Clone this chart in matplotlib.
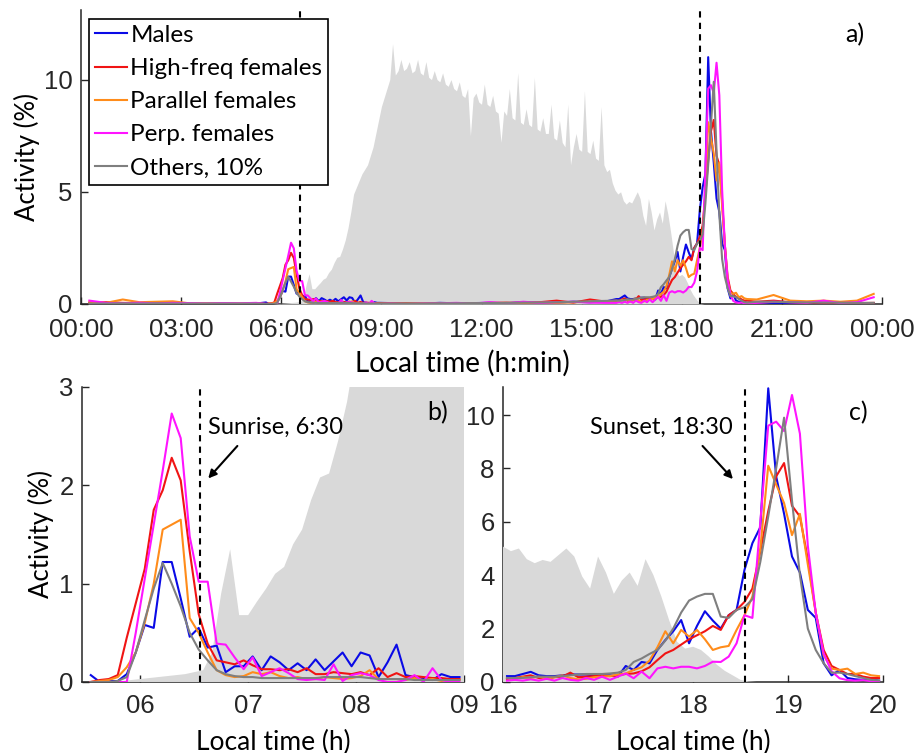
import numpy as np
import matplotlib
matplotlib.use("Agg")
import matplotlib.pyplot as plt

plt.rcParams['font.family'] = ['Liberation Sans', 'DejaVu Sans']
plt.rcParams['axes.edgecolor'] = '#262626'
plt.rcParams['axes.linewidth'] = 1.1
plt.rcParams['xtick.color'] = '#262626'
plt.rcParams['ytick.color'] = '#262626'
LBL = 'Lato'

# ---- activity (%) in 5-min bins, window b (05:30-09:00) ----
males_b = [0.07, 0.0, 0.01, 0.01, 0.08, 0.3, 0.58, 0.55, 1.22, 1.22,
           0.85, 0.46, 0.55, 0.35, 0.37, 0.1, 0.16, 0.16, 0.26, 0.12,
           0.26, 0.2, 0.12, 0.19, 0.12, 0.23, 0.12, 0.21, 0.3, 0.16,
           0.3, 0.27, 0.05, 0.2, 0.38, 0.07, 0.05, 0.03, 0.02, 0.08,
           0.05, 0.05]
hifreq_b = [0.0, 0.02, 0.03, 0.07, 0.45, 0.8, 1.15, 1.75, 1.95, 2.28,
            2.05, 1.33, 0.69, 0.39, 0.22, 0.2, 0.18, 0.22, 0.17, 0.13,
            0.13, 0.12, 0.13, 0.1, 0.14, 0.08, 0.08, 0.1, 0.09, 0.08,
            0.1, 0.07, 0.14, 0.05, 0.09, 0.05, 0.06, 0.05, 0.04, 0.04,
            0.03, 0.03]
parallel_b = [0.0, 0.01, 0.02, 0.05, 0.15, 0.3, 0.6, 1.0, 1.55, 1.6,
              1.65, 0.65, 0.5, 0.3, 0.12, 0.07, 0.05, 0.06, 0.1, 0.08,
              0.1, 0.06, 0.04, 0.05, 0.03, 0.03, 0.05, 0.04, 0.03, 0.04,
              0.06, 0.12, 0.03, 0.03, 0.03, 0.02, 0.04, 0.02, 0.03, 0.01,
              0.02, 0.02]
perp_b = [0.0, 0.0, 0.0, 0.0, 0.0, 0.5, 1.05, 1.6, 2.15, 2.73,
          2.48, 1.48, 1.02, 1.02, 0.39, 0.38, 0.25, 0.13, 0.25, 0.06,
          0.1, 0.14, 0.09, 0.03, 0.02, 0.03, 0.02, 0.18, 0.01, 0.07,
          0.09, 0.07, 0.02, 0.0, 0.0, 0.02, 0.07, 0.0, 0.14, 0.02,
          0.0, 0.0]
others_b = [0.0, 0.0, 0.0, 0.01, 0.05, 0.3, 0.63, 0.95, 1.21, 1.0,
            0.77, 0.5, 0.33, 0.22, 0.12, 0.08, 0.06, 0.05, 0.05, 0.04,
            0.04, 0.04, 0.04, 0.04, 0.04, 0.04, 0.05, 0.05, 0.05, 0.05,
            0.05, 0.04, 0.03, 0.03, 0.03, 0.03, 0.02, 0.02, 0.02, 0.02,
            0.02, 0.02]

# ---- window c (16:00-20:00) ----
males_c = [0.22, 0.22, 0.3, 0.38, 0.25, 0.22, 0.22, 0.25, 0.28, 0.28,
           0.28, 0.25, 0.25, 0.25, 0.2, 0.6, 0.45, 0.75, 0.7, 1.2,
           1.57, 1.9, 2.32, 1.45, 2.1, 2.65, 2.3, 2.0, 2.5, 2.7,
           4.2, 5.2, 5.8, 11.0, 7.7, 6.3, 4.7, 4.1, 2.7, 2.4,
           0.7, 0.25, 0.45, 0.15, 0.1, 0.08, 0.1, 0.05]
hifreq_c = [0.12, 0.15, 0.2, 0.25, 0.15, 0.12, 0.18, 0.2, 0.35, 0.18,
            0.2, 0.22, 0.25, 0.22, 0.25, 0.3, 0.32, 0.4, 0.55, 0.82,
            1.07, 1.2, 1.4, 1.6, 1.75, 1.9, 2.1, 1.95, 2.5, 2.7,
            3.0, 3.5, 4.9, 6.4, 7.7, 8.2, 6.6, 6.2, 4.6, 2.6,
            1.2, 0.6, 0.45, 0.3, 0.3, 0.2, 0.15, 0.15]
parallel_c = [0.15, 0.12, 0.18, 0.15, 0.2, 0.12, 0.18, 0.25, 0.15, 0.1,
              0.12, 0.18, 0.2, 0.22, 0.28, 0.32, 0.45, 0.55, 0.8, 1.3,
              1.9, 1.45, 1.95, 1.7, 1.95, 1.6, 1.2, 1.3, 1.35, 1.95,
              2.5, 3.2, 5.0, 8.1, 7.4, 6.7, 5.5, 6.3, 4.4, 2.6,
              1.0, 0.5, 0.45, 0.5, 0.3, 0.35, 0.25, 0.22]
perp_c = [0.05, 0.08, 0.05, 0.1, 0.05, 0.12, 0.05, 0.15, 0.08, 0.05,
          0.15, 0.08, 0.2, 0.08, 0.2, 0.32, 0.14, 0.39, 0.14, 0.51,
          0.57, 0.51, 0.57, 0.57, 0.51, 0.6, 0.76, 0.75, 0.95, 1.45,
          2.5, 2.4, 6.0, 9.6, 9.75, 9.4, 10.75, 9.3, 5.1, 2.6,
          1.07, 0.4, 0.14, 0.07, 0.05, 0.07, 0.03, 0.03]
others_c = [0.15, 0.15, 0.15, 0.18, 0.2, 0.2, 0.2, 0.22, 0.25, 0.28,
            0.3, 0.3, 0.3, 0.32, 0.35, 0.45, 0.75, 0.88, 1.05, 1.2,
            1.55, 2.0, 2.6, 3.05, 3.2, 3.3, 3.3, 2.45, 2.4, 2.7,
            2.8, 3.1, 4.5, 6.2, 8.0, 9.9, 6.8, 4.0, 2.0, 1.2,
            0.7, 0.35, 0.35, 0.3, 0.22, 0.15, 0.08, 0.06]

# ---- quiet hours, 30-min bins: 00-05:30, 09-16, 20-24 ----
males_night1 = [0.02, 0.0, 0.02, 0.0, 0.01, 0.0, 0.0, 0.0, 0.01, 0.0, 0.02]
hifreq_night1 = [0.05, 0.08, 0.05, 0.04, 0.06, 0.03, 0.02, 0.02, 0.02, 0.01, 0.02]
parallel_night1 = [0.1, 0.05, 0.2, 0.08, 0.1, 0.12, 0.03, 0.02, 0.02, 0.02, 0.03]
perp_night1 = [0.15, 0.05, 0.03, 0.06, 0.03, 0.05, 0.04, 0.02, 0.04, 0.03, 0.05]
others_night1 = [0.02, 0.02, 0.03, 0.02, 0.03, 0.02, 0.02, 0.02, 0.02, 0.02, 0.02]

males_day = [0.04, 0.03, 0.02, 0.05, 0.03, 0.04, 0.05, 0.03, 0.08, 0.05, 0.06, 0.1, 0.08, 0.12]
hifreq_day = [0.03, 0.03, 0.02, 0.03, 0.04, 0.03, 0.05, 0.06, 0.04, 0.08, 0.15, 0.06, 0.2, 0.1]
parallel_day = [0.02, 0.02, 0.03, 0.02, 0.02, 0.03, 0.02, 0.04, 0.05, 0.06, 0.05, 0.08, 0.1, 0.12]
perp_day = [0.02, 0.0, 0.02, 0.03, 0.05, 0.02, 0.08, 0.03, 0.1, 0.05, 0.08, 0.1, 0.06, 0.05]
others_day = [0.02, 0.02, 0.02, 0.03, 0.03, 0.04, 0.04, 0.05, 0.06, 0.07, 0.08, 0.1, 0.12, 0.14]

males_night2 = [0.08, 0.05, 0.05, 0.03, 0.05, 0.04, 0.03, 0.02]
hifreq_night2 = [0.1, 0.15, 0.08, 0.06, 0.05, 0.05, 0.04, 0.05]
parallel_night2 = [0.2, 0.4, 0.15, 0.12, 0.15, 0.1, 0.15, 0.45]
perp_night2 = [0.05, 0.1, 0.08, 0.05, 0.15, 0.04, 0.08, 0.3]
others_night2 = [0.1, 0.1, 0.08, 0.07, 0.06, 0.06, 0.05, 0.05]

# ---- light (grey background), 5-min steps from 05:30 to 19:00 ----
light = [0, 0, 0, 0, 0.01, 0.02,
         0.03, 0.04, 0.05, 0.06, 0.07, 0.08, 0.1, 0.12, 0.3, 0.9, 1.35, 0.68,
         0.68, 0.82, 0.95, 1.1, 1.17, 1.4, 1.55, 1.85, 2.08, 2.12, 2.45, 2.85,
         3.4, 4.1, 4.9, 5.2, 5.5, 5.8, 6.0, 6.2, 6.6, 7.0, 7.6, 8.2,
         8.8, 9.2, 9.6, 10.0, 11.6, 10.2, 10.4, 10.9, 10.4, 10.5, 10.8, 10.3,
         10.4, 10.9, 10.3, 10.2, 10.8, 10.1, 10.0, 10.4, 10.0, 9.9, 10.3, 9.8,
         9.7, 10.0, 9.6, 9.5, 9.9, 9.3, 9.2, 9.6, 7.5, 9.2, 9.4, 9.0,
         8.9, 9.8, 8.9, 8.8, 9.3, 8.6, 8.5, 7.2, 8.6, 8.4, 9.6, 8.3,
         8.2, 10.3, 8.1, 8.0, 8.7, 8.0, 7.9, 10.1, 7.8, 7.7, 8.3, 7.6,
         7.6, 8.9, 7.4, 7.3, 8.2, 7.2, 7.0, 8.9, 6.2, 7.0, 7.6, 6.9,
         6.8, 9.5, 6.8, 6.7, 7.3, 6.5, 6.4, 8.8, 6.2, 5.9, 6.0, 5.4,
         5.07, 4.9, 5.0, 4.6, 4.45, 4.57, 4.5, 4.75, 5.0, 4.7, 3.95, 3.5,
         4.7, 4.1, 3.3, 3.8, 4.1, 3.6, 4.6, 4.0, 3.2, 2.3, 1.5, 1.25,
         1.32, 1.2, 0.95, 0.65, 0.42, 0.25, 0.08, 0.02, 0, 0, 0, 0,
         0]

labels = ['Males', 'High-freq females', 'Parallel females', 'Perp. females', 'Others, 10%']
colors = ['#0a0ae6', '#f01414', '#ff8c1a', '#ff14ff', '#7f7f7f']
fill_col = '#d9d9d9'
sunrise, sunset = 6.55, 18.55

# time axes (bin centres)
t_b = 5.5 + (np.arange(len(males_b)) + 0.5) / 12
t_c = 16 + (np.arange(len(males_c)) + 0.5) / 12
t_n1 = 0.25 + 0.5 * np.arange(len(males_night1))
t_day = 9.25 + 0.5 * np.arange(len(males_day))
t_n2 = 20.25 + 0.5 * np.arange(len(males_night2))
t_light = 5.5 + np.arange(len(light)) / 12
t_full = np.concatenate([t_n1, t_b, t_day, t_c, t_n2])

series_b = [males_b, hifreq_b, parallel_b, perp_b, others_b]
series_c = [males_c, hifreq_c, parallel_c, perp_c, others_c]
series_full = [np.concatenate(p) for p in zip(
    [males_night1, hifreq_night1, parallel_night1, perp_night1, others_night1],
    series_b,
    [males_day, hifreq_day, parallel_day, perp_day, others_day],
    series_c,
    [males_night2, hifreq_night2, parallel_night2, perp_night2, others_night2])]

TICK = 18.5

fig = plt.figure(figsize=(9.23, 7.53), dpi=100)
ax_a = fig.add_axes([0.0878, 0.5963, 0.8678, 0.3904])
ax_b = fig.add_axes([0.0888, 0.0943, 0.4139, 0.3918])
ax_c = fig.add_axes([0.545, 0.0943, 0.4117, 0.3918])


def style_axes(ax, xpad):
    for s in ['top', 'right']:
        ax.spines[s].set_visible(False)
    ax.tick_params(direction='in', length=5, width=1, labelsize=TICK)
    ax.tick_params(axis='x', pad=xpad)
    ax.tick_params(axis='y', pad=6)


def draw(ax, t_series, series, marker_line):
    ax.fill_between(t_light, light, 0, color=fill_col, lw=0, zorder=2.6)
    for y, c, lab in zip(series, colors, labels):
        ax.plot(t_series, y, color=c, lw=1.5, label=lab, zorder=3)
    for xv in marker_line:
        ax.axvline(xv, color='black', ls=(0, (3, 2.5)), lw=1.5, zorder=4)


# panel a
draw(ax_a, t_full, series_full, [sunrise, sunset])
ax_a.set_xlim(0, 24)
ax_a.set_ylim(0, 13.1)
ax_a.set_xticks(range(0, 25, 3))
ax_a.set_xticklabels(['%02d:00' % (h % 24) for h in range(0, 25, 3)])
ax_a.set_yticks([0, 5, 10])
style_axes(ax_a, 10)
ax_a.set_xlabel('Local time (h:min)', fontfamily=LBL, fontsize=20)
ax_a.xaxis.set_label_coords(0.476, -0.155)
ax_a.set_ylabel('Activity (%)', fontfamily=LBL, fontsize=18.5, labelpad=3)
ax_a.text(0.966, 0.915, 'a)', transform=ax_a.transAxes, fontfamily=LBL,
          fontsize=18, ha='center', va='center')
leg = ax_a.legend(loc='upper left', bbox_to_anchor=(0.01, 0.97), borderaxespad=0,
                  prop={'family': LBL, 'size': 17.5}, handlelength=1.3,
                  handletextpad=0.15, labelspacing=0.5, borderpad=0.25,
                  fancybox=False, framealpha=1, edgecolor='black')
leg.get_frame().set_linewidth(1.2)
leg.set_zorder(10)

# panel b
draw(ax_b, t_b, series_b, [sunrise])
ax_b.set_xlim(5.46, 9.0)
ax_b.set_ylim(0, 3)
ax_b.set_xticks([6, 7, 8, 9])
ax_b.set_xticklabels(['06', '07', '08', '09'])
ax_b.set_yticks([0, 1, 2, 3])
style_axes(ax_b, 9)
ax_b.set_xlabel('Local time (h)', fontfamily=LBL, fontsize=19, labelpad=8)
ax_b.set_ylabel('Activity (%)', fontfamily=LBL, fontsize=18.5, labelpad=4)
ax_b.text(0.93, 0.912, 'b)', transform=ax_b.transAxes, fontfamily=LBL,
          fontsize=18, ha='center', va='center')
ax_b.annotate('Sunrise, 6:30', xy=(6.63, 2.07), xytext=(6.63, 2.59),
              fontfamily=LBL, fontsize=17, ha='left', va='center', zorder=6)
ax_b.annotate('', xy=(6.63, 2.07), xytext=(6.9, 2.4), zorder=6,
              arrowprops=dict(arrowstyle='-|>', color='black', lw=1.5,
                              mutation_scale=12, shrinkA=0, shrinkB=0))

# panel c
draw(ax_c, t_c, series_c, [sunset])
ax_c.set_xlim(16, 20)
ax_c.set_ylim(0, 11.05)
ax_c.set_xticks([16, 17, 18, 19, 20])
ax_c.set_yticks([0, 2, 4, 6, 8, 10])
style_axes(ax_c, 9)
ax_c.set_xlabel('Local time (h)', fontfamily=LBL, fontsize=19, labelpad=8)
ax_c.text(0.934, 0.912, 'c)', transform=ax_c.transAxes, fontfamily=LBL,
          fontsize=18, ha='center', va='center')
ax_c.annotate('Sunset, 18:30', xy=(17.67, 9.55), xytext=(17.67, 9.55),
              fontfamily=LBL, fontsize=17, ha='center', va='center', zorder=6)
ax_c.annotate('', xy=(18.42, 7.6), xytext=(18.1, 8.84), zorder=6,
              arrowprops=dict(arrowstyle='-|>', color='black', lw=1.5,
                              mutation_scale=12, shrinkA=0, shrinkB=0))

fig.savefig('out.png', dpi=100)
